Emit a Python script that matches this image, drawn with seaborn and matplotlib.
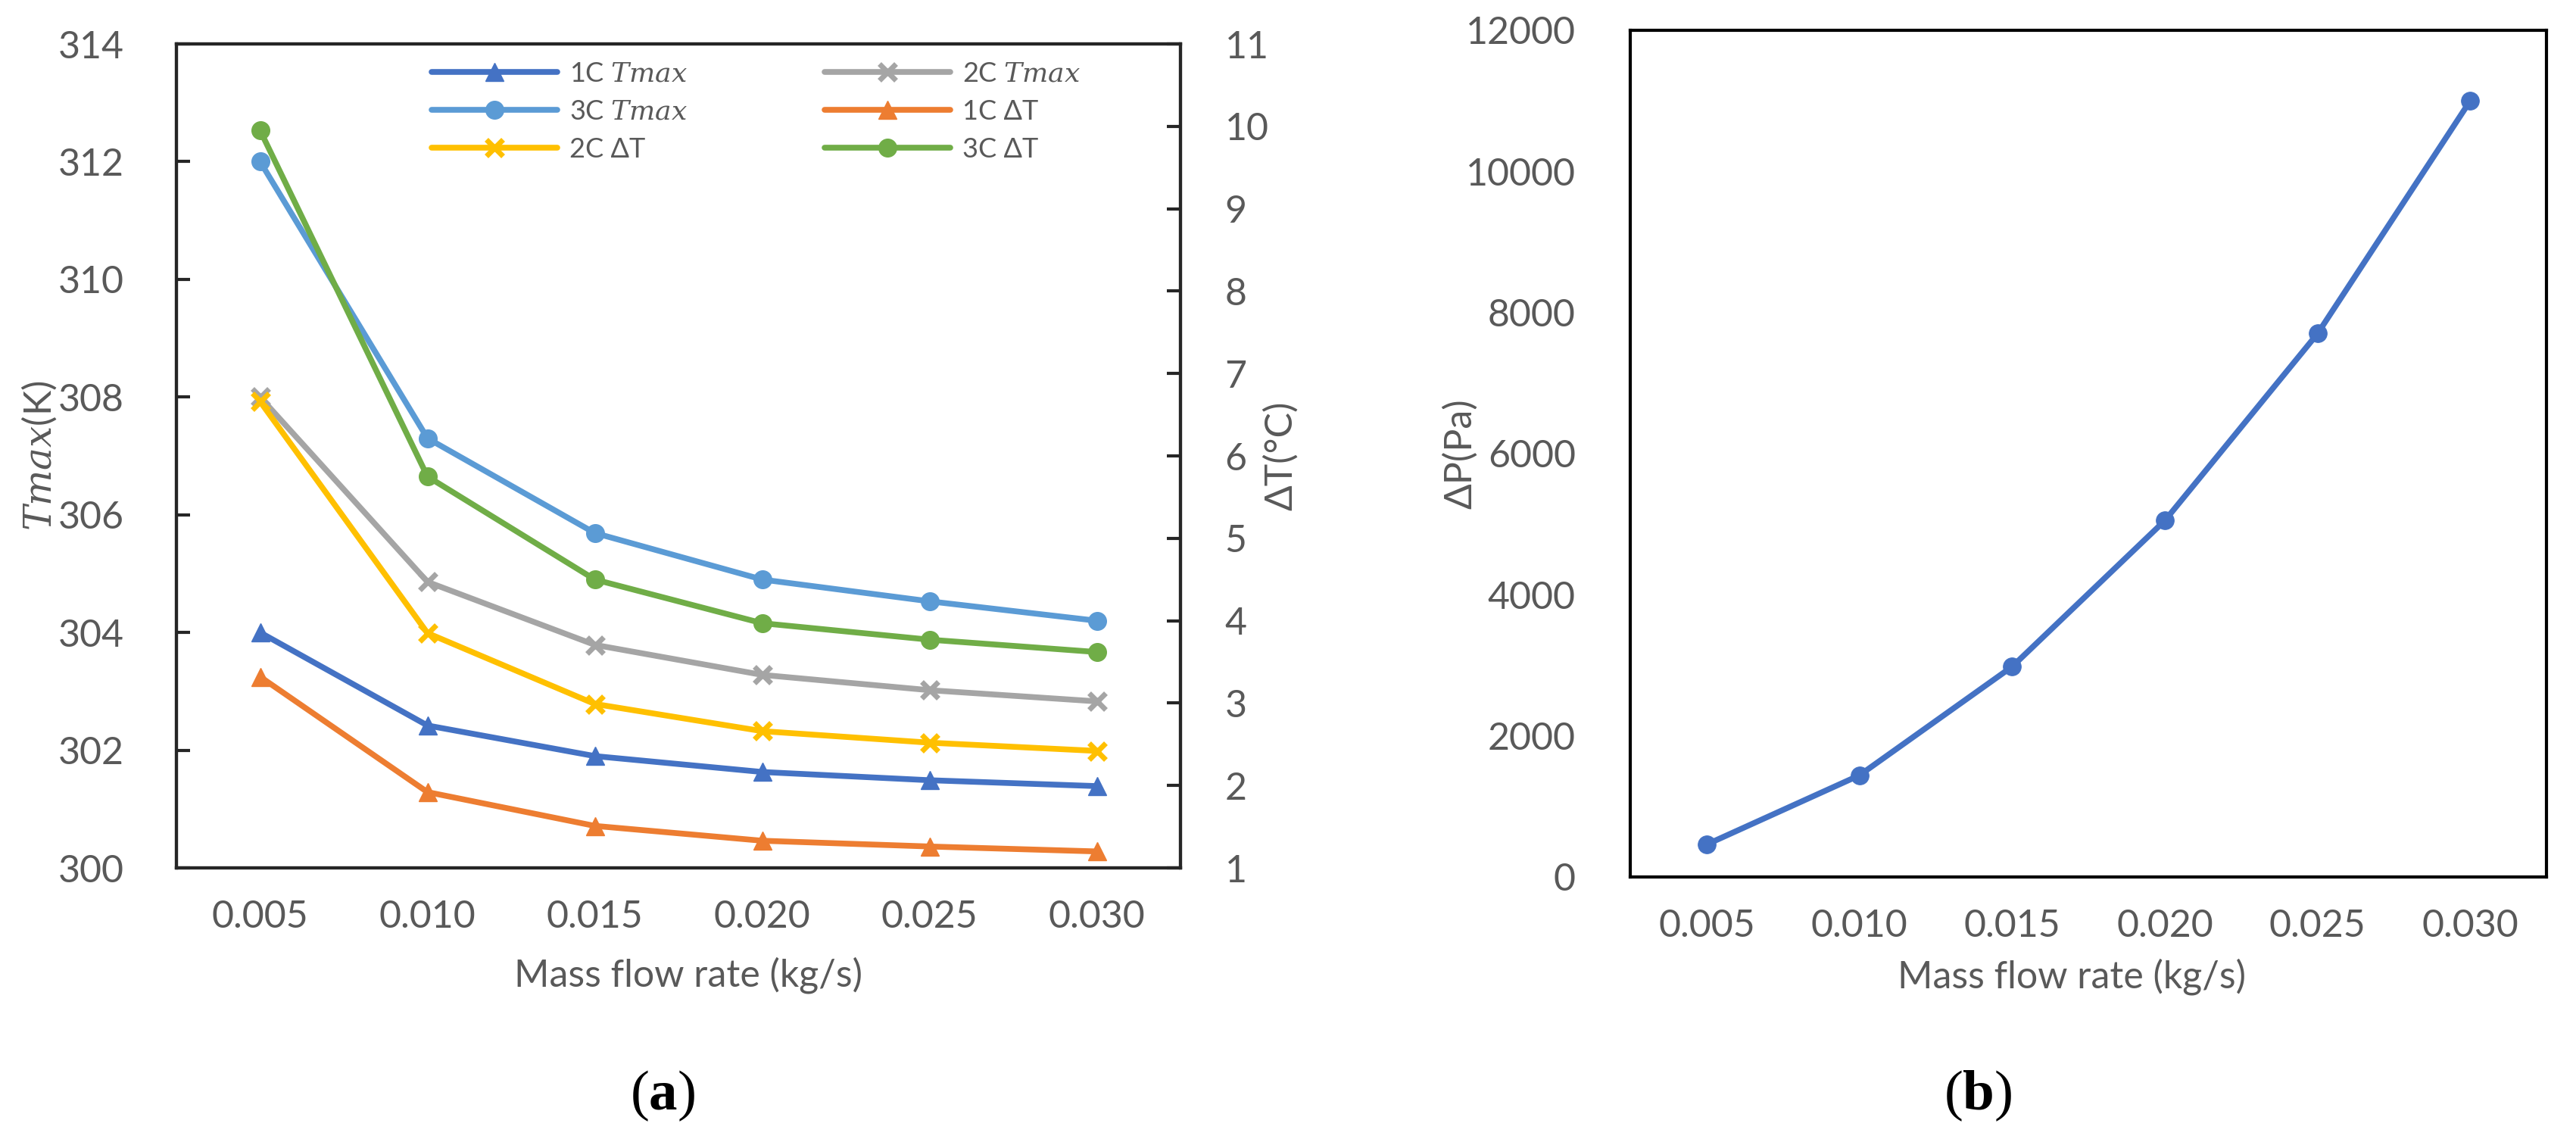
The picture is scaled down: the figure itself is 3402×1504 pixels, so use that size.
"""Tmax / dT and pressure drop vs mass flow rate, two panels."""

import matplotlib
matplotlib.use("Agg")
import numpy as np
import matplotlib.pyplot as plt
import matplotlib.ticker as mticker
import seaborn as sns

# ---- data ----
flow_labels = ["0.005", "0.010", "0.015", "0.020", "0.025", "0.030"]

tmax_1c = [304.0, 302.42, 301.9, 301.63, 301.49, 301.39]
tmax_2c = [308.0, 304.86, 303.79, 303.28, 303.02, 302.83]
tmax_3c = [312.0, 307.3, 305.69, 304.9, 304.53, 304.2]

dt_1c = [3.32, 1.92, 1.51, 1.33, 1.26, 1.20]
dt_2c = [6.66, 3.85, 2.99, 2.66, 2.52, 2.42]
dt_3c = [9.95, 5.75, 4.50, 3.97, 3.77, 3.62]

dp = [460, 1440, 2980, 5050, 7700, 11000]

BLUE = "#4472C4"
GRAY = "#A5A5A5"
LBLUE = "#5B9BD5"
ORANGE = "#ED7D31"
GOLD = "#FFC000"
GREEN = "#70AD47"
TXT = "#595959"

sns.set_style("white")
plt.rcParams["font.family"] = ["Lato", "DejaVu Sans"]
plt.rcParams["mathtext.fontset"] = "custom"
plt.rcParams["mathtext.it"] = "DejaVu Serif:italic"
plt.rcParams["mathtext.rm"] = "Lato"
plt.rcParams["mathtext.bf"] = "Liberation Serif:bold"

pos = np.arange(len(flow_labels))
TICK_FS = 36
LW = 5.5
MS = 17


def style_x(ax):
    ax.set_xlim(-0.5, len(flow_labels) - 0.5)
    ax.set_xticks(pos)
    ax.set_xticklabels(flow_labels)
    ax.xaxis.set_minor_locator(mticker.FixedLocator(pos[:-1] + 0.5))
    ax.tick_params(axis="x", which="major", length=0, pad=30,
                   labelsize=TICK_FS, labelcolor=TXT)
    ax.tick_params(axis="x", which="minor", direction="in", length=13,
                   width=3, color="black")
    for s in ax.spines.values():
        s.set_linewidth(3)
        s.set_color("black")


def line(ax, y, color, marker, label, ms=MS, mew=1):
    sns.lineplot(x=pos, y=y, ax=ax, color=color, marker=marker, markersize=ms,
                 markeredgecolor=color, markeredgewidth=mew, linewidth=LW,
                 label=label, legend=False)


fig = plt.figure(figsize=(34.02, 15.04), dpi=100)

# ---- panel (a) ----
ax = fig.add_axes([0.0685, 0.2380, 0.3898, 0.7234])
ax2 = ax.twinx()

line(ax, tmax_1c, BLUE, "^", "1C $Tmax$")
line(ax, tmax_2c, GRAY, "x", "2C $Tmax$", ms=16, mew=5)
line(ax, tmax_3c, LBLUE, "o", "3C $Tmax$")
line(ax2, dt_1c, ORANGE, "^", "1C ΔT")
line(ax2, dt_2c, GOLD, "x", "2C ΔT", ms=16, mew=5)
line(ax2, dt_3c, GREEN, "o", "3C ΔT")

style_x(ax)
ax.set_ylim(300, 314)
ax.set_yticks(np.arange(300, 315, 2))
ax.tick_params(axis="y", direction="in", length=13, width=3, pad=50,
               labelsize=TICK_FS, labelcolor=TXT)
ax2.set_ylim(1, 11)
ax2.set_yticks(np.arange(1, 12, 1))
ax2.tick_params(axis="y", direction="in", length=13, width=3, pad=42,
                labelsize=TICK_FS, labelcolor=TXT)
for s in ax2.spines.values():
    s.set_linewidth(3)

ax.set_xlabel("Mass flow rate (kg/s)", fontsize=TICK_FS, color=TXT, va="top")
ax.xaxis.set_label_coords(0.510, -0.108)
ax.set_ylabel("$Tmax$(K)", fontsize=TICK_FS, color=TXT)
ax.yaxis.set_label_coords(-0.118, 0.5)
ax2.set_ylabel("ΔT(°C)", fontsize=TICK_FS, color=TXT)
ax2.yaxis.set_label_coords(1.082, 0.5)

h1, l1 = ax.get_legend_handles_labels()
h2, l2 = ax2.get_legend_handles_labels()
hd = dict(zip(l1 + l2, h1 + h2))
order = ["1C $Tmax$", "3C $Tmax$", "2C ΔT", "2C $Tmax$", "1C ΔT", "3C ΔT"]
leg = ax2.legend([hd[k] for k in order], order, ncol=2, loc="upper left",
                 bbox_to_anchor=(0.254, 0.979), frameon=False, fontsize=26,
                 handlelength=4.6, handletextpad=0.45, columnspacing=5.0,
                 labelspacing=0.47, borderpad=0, borderaxespad=0)
for t in leg.get_texts():
    t.set_color(TXT)

# ---- panel (b) ----
bx = fig.add_axes([0.6329, 0.2301, 0.3557, 0.7434])
sns.lineplot(x=pos, y=dp, ax=bx, color=BLUE, marker="o", markersize=MS,
             markeredgecolor=BLUE, linewidth=LW)
style_x(bx)
bx.set_ylim(0, 12000)
bx.set_yticks(np.arange(0, 12001, 2000))
bx.tick_params(axis="y", length=0, pad=52, labelsize=TICK_FS, labelcolor=TXT)
bx.set_xlabel("Mass flow rate (kg/s)", fontsize=TICK_FS, color=TXT, va="top")
bx.xaxis.set_label_coords(0.482, -0.096)
bx.set_ylabel("ΔP(Pa)", fontsize=TICK_FS, color=TXT)
bx.yaxis.set_label_coords(-0.166, 0.5)

fig.text(0.2572, 0.0379, r"($\mathbf{a}$)", fontsize=54, ha="center",
         va="center", family="Liberation Serif", color="black")
fig.text(0.7678, 0.0379, r"($\mathbf{b}$)", fontsize=54, ha="center",
         va="center", family="Liberation Serif", color="black")

fig.savefig("out.png", dpi=100)
plt.close(fig)
print("Saved: out.png")
